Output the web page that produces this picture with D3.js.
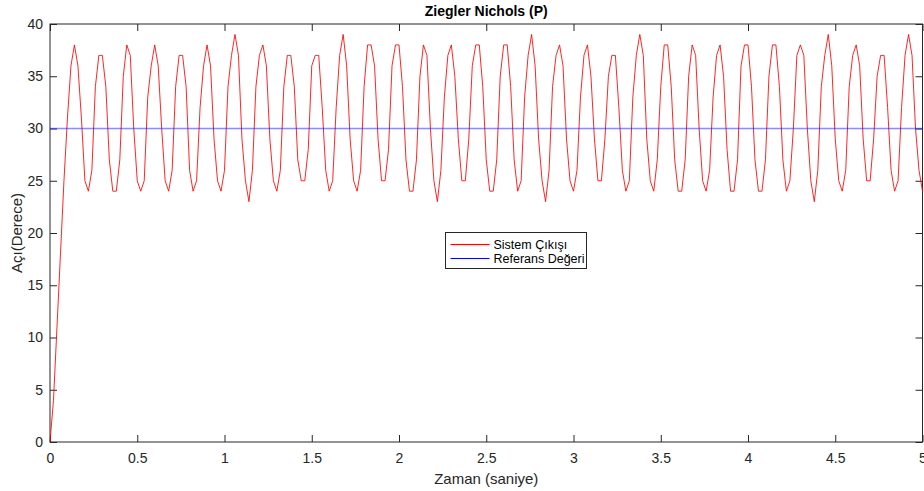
<!DOCTYPE html>
<html>
<head>
<meta charset="utf-8">
<script src="https://cdn.jsdelivr.net/npm/d3@7"></script>
<style>
  body { margin: 0; background: #fff; }
  text { font-family: "Liberation Sans", Arial, Helvetica, sans-serif; }
</style>
</head>
<body>
<div id="chart"></div>
<script>
// sampling step of the logged signal (s)
var dt = 0.02;

// Sistem Çıkışı - measured angle, one value per sample
var sistemCikisi = [
  0, 4, 11, 18, 25, 31, 36, 38, 36, 31,
  25, 24, 26, 34, 37, 37, 34, 27, 24, 24,
  27, 35, 38, 37, 30, 25, 24, 25, 33, 36,
  38, 36, 30, 25, 24, 26, 34, 37, 37, 34,
  26, 24, 25, 32, 36, 38, 36, 29, 25, 24,
  26, 34, 37, 39, 37, 29, 25, 23, 26, 34,
  37, 38, 36, 29, 25, 24, 26, 34, 37, 37,
  34, 27, 25, 25, 28, 36, 37, 37, 32, 26,
  24, 25, 32, 37, 39, 36, 29, 25, 24, 26,
  34, 38, 38, 36, 29, 25, 25, 28, 36, 38,
  38, 34, 27, 24, 24, 27, 35, 38, 37, 30,
  25, 23, 26, 33, 37, 38, 35, 29, 25, 25,
  29, 36, 38, 38, 34, 27, 24, 24, 27, 35,
  38, 38, 34, 27, 24, 25, 33, 37, 39, 36,
  29, 25, 23, 26, 34, 37, 38, 36, 29, 25,
  24, 26, 33, 37, 38, 35, 29, 25, 25, 29,
  35, 37, 37, 32, 26, 24, 25, 33, 37, 39,
  37, 29, 25, 24, 27, 34, 38, 38, 34, 27,
  24, 24, 27, 35, 38, 37, 30, 25, 24, 26,
  33, 37, 38, 35, 28, 24, 24, 27, 36, 38,
  38, 34, 27, 24, 24, 27, 35, 38, 38, 34,
  27, 24, 25, 30, 37, 38, 37, 30, 25, 23,
  26, 34, 37, 39, 36, 29, 25, 24, 26, 34,
  37, 38, 36, 29, 25, 25, 29, 35, 37, 37,
  32, 26, 24, 25, 32, 37, 39, 37, 30, 26,
  24
];

// Referans Değeri
var refTimes = [0, 5];
var refValues = [30, 30];

var xTicks = [0, 0.5, 1, 1.5, 2, 2.5, 3, 3.5, 4, 4.5, 5];
var xTickLabels = ["0", "0.5", "1", "1.5", "2", "2.5", "3", "3.5", "4", "4.5", "5"];
var yTicks = [0, 5, 10, 15, 20, 25, 30, 35, 40];

var width = 924, height = 491;
var pLeft = 50, pRight = 922.5, pTop = 24, pBottom = 442;
var axisColor = "#262626";

var svg = d3.select("#chart")
  .append("svg")
  .attr("width", width)
  .attr("height", height);

var x = d3.scaleLinear().domain([0, 5]).range([pLeft, pRight]);
var y = d3.scaleLinear().domain([0, 40]).range([pBottom, pTop]);

function styleAxis(g){
  g.select(".domain").remove();
  g.selectAll(".tick line").attr("stroke", axisColor);
  g.selectAll(".tick text")
    .attr("fill", axisColor)
    .style("font-size", "14px");
}

// bottom + top
svg.append("g")
  .attr("transform", "translate(0," + pBottom + ")")
  .call(d3.axisBottom(x).tickValues(xTicks)
    .tickFormat(function(d, i){ return xTickLabels[i]; })
    .tickSizeInner(-7).tickSizeOuter(0).tickPadding(11))
  .call(styleAxis);

svg.append("g")
  .attr("transform", "translate(0," + pTop + ")")
  .call(d3.axisTop(x).tickValues(xTicks).tickFormat("")
    .tickSizeInner(-7).tickSizeOuter(0))
  .call(styleAxis);

// left + right
svg.append("g")
  .attr("transform", "translate(" + pLeft + ",0)")
  .call(d3.axisLeft(y).tickValues(yTicks)
    .tickSizeInner(-7).tickSizeOuter(0).tickPadding(7))
  .call(styleAxis);

svg.append("g")
  .attr("transform", "translate(" + pRight + ",0)")
  .call(d3.axisRight(y).tickValues(yTicks).tickFormat("")
    .tickSizeInner(-7).tickSizeOuter(0))
  .call(styleAxis);

svg.append("rect")
  .attr("x", pLeft)
  .attr("y", pTop)
  .attr("width", pRight - pLeft)
  .attr("height", pBottom - pTop)
  .attr("fill", "none")
  .attr("stroke", axisColor)
  .attr("stroke-width", 1);

// lines
var line = d3.line()
  .x(function(d){ return x(d[0]); })
  .y(function(d){ return y(d[1]); });

var sysData = sistemCikisi.map(function(v, i){ return [i * dt, v]; });
var refData = refTimes.map(function(t, i){ return [t, refValues[i]]; });

svg.append("path")
  .datum(sysData)
  .attr("d", line)
  .attr("fill", "none")
  .attr("stroke", "#ff0000")
  .attr("stroke-opacity", 0.85)
  .attr("stroke-width", 1);

// reference sits between pixel rows in the original, so it looks pale
svg.append("path")
  .datum(refData)
  .attr("d", line)
  .attr("fill", "none")
  .attr("stroke", "#0000ff")
  .attr("stroke-opacity", 0.45)
  .attr("stroke-width", 1.3);

// titles
svg.append("text")
  .attr("x", (pLeft + pRight) / 2)
  .attr("y", 16)
  .attr("text-anchor", "middle")
  .style("font-size", "14px")
  .style("font-weight", "bold")
  .attr("fill", "#000")
  .text("Ziegler Nichols (P)");

svg.append("text")
  .attr("x", (pLeft + pRight) / 2)
  .attr("y", 484)
  .attr("text-anchor", "middle")
  .style("font-size", "15px")
  .attr("fill", axisColor)
  .text("Zaman (saniye)");

svg.append("text")
  .attr("transform", "translate(22," + ((pTop + pBottom) / 2) + ") rotate(-90)")
  .attr("text-anchor", "middle")
  .style("font-size", "15px")
  .attr("fill", axisColor)
  .text("Açı(Derece)");

// legend
var legend = svg.append("g").attr("transform", "translate(445.5,232.5)");
legend.append("rect")
  .attr("width", 141)
  .attr("height", 36)
  .attr("fill", "#fff")
  .attr("stroke", axisColor)
  .attr("stroke-width", 1);

var legendItems = [
  {label: "Sistem Çıkışı", color: "#ff0000"},
  {label: "Referans Değeri", color: "#0000ff"}
];

legendItems.forEach(function(d, i){
  var ly = 12 + i * 14;
  legend.append("line")
    .attr("x1", 5).attr("x2", 44)
    .attr("y1", ly).attr("y2", ly)
    .attr("stroke", d.color)
    .attr("stroke-width", 1);
  legend.append("text")
    .attr("x", 48)
    .attr("y", ly + 4.5)
    .style("font-size", "12.5px")
    .attr("fill", "#000")
    .text(d.label);
});
</script>
</body>
</html>
